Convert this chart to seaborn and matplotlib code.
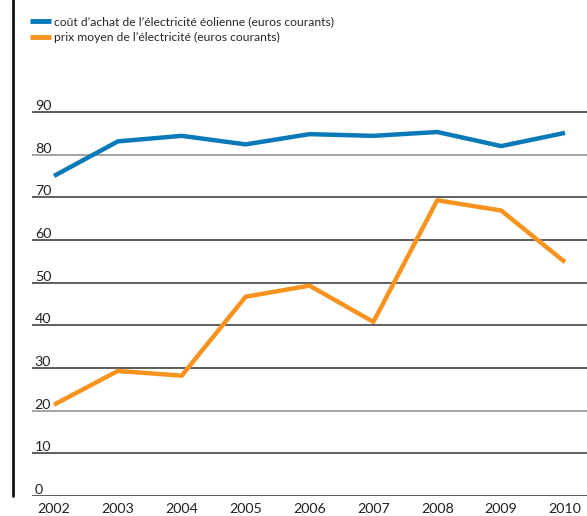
import pandas as pd
import matplotlib.pyplot as plt
import seaborn as sns
from matplotlib.lines import Line2D

# Data
years = [2002, 2003, 2004, 2005, 2006, 2007, 2008, 2009, 2010]
eolien = [75.0, 83.1, 84.4, 82.4, 84.8, 84.4, 85.3, 82.0, 85.1]
prix_moyen = [21.4, 29.3, 28.2, 46.7, 49.3, 40.8, 69.3, 66.9, 54.8]
series_names = ["coût d\u2019achat de l\u2019électricité éolienne (euros courants)",
                "prix moyen de l\u2019électricité (euros courants)"]
y_ticks = [0, 10, 20, 30, 40, 50, 60, 70, 80, 90]

df = pd.DataFrame({
    "annee": years * 2,
    "valeur": eolien + prix_moyen,
    "serie": [series_names[0]] * len(years) + [series_names[1]] * len(years),
})

sns.set_style("white")
plt.rcParams["font.family"] = ["Lato", "DejaVu Sans"]

colors = {series_names[0]: "#0a79b8", series_names[1]: "#f7931e"}

fig = plt.figure(figsize=(5.87, 5.16), dpi=100)
ax = fig.add_axes([32 / 587, 20 / 516, 1 - 32 / 587, 396 / 516])

# Horizontal gridlines
for v in y_ticks:
    ax.axhline(v, color="#8a8a8a" if v in (20, 80) else "#333333", lw=1.1, zorder=1)

sns.lineplot(data=df, x="annee", y="valeur", hue="serie", palette=colors,
             lw=3.2, ax=ax, legend=False, zorder=3)
for line in ax.lines:
    line.set_solid_capstyle("butt")

ax.set_xlim(2001.656, 2010.344)
ax.set_ylim(0, 92.8)
ax.set_xticks(years)
ax.set_xticklabels([str(y) for y in years], fontsize=10.3, color="#222222")
ax.set_yticks(y_ticks)
ax.set_yticklabels([str(v) for v in y_ticks], fontsize=10.3, color="#222222")
ax.tick_params(axis="x", length=0, pad=5)
ax.tick_params(axis="y", length=0, pad=-2)
for lbl in ax.get_yticklabels():
    lbl.set_horizontalalignment("left")
    lbl.set_verticalalignment("bottom")
ax.set_xlabel("")
ax.set_ylabel("")
for s in ax.spines.values():
    s.set_visible(False)

# Left black rule
fig.add_artist(Line2D([12.5 / 587, 12.5 / 587], [20 / 516, 1.0],
                      transform=fig.transFigure, color="#111111", lw=2))

handles = [Line2D([0], [0], color=colors[n], lw=3.5, solid_capstyle="butt") for n in series_names]
fig.legend(handles, series_names, loc="upper left", bbox_to_anchor=(30 / 587, 1 - 16.5 / 516),
           frameon=False, fontsize=8.75, handlelength=1.7, handletextpad=0.3,
           labelspacing=0.4, borderaxespad=0, borderpad=0)

fig.savefig("out.png", dpi=100)
plt.close(fig)
